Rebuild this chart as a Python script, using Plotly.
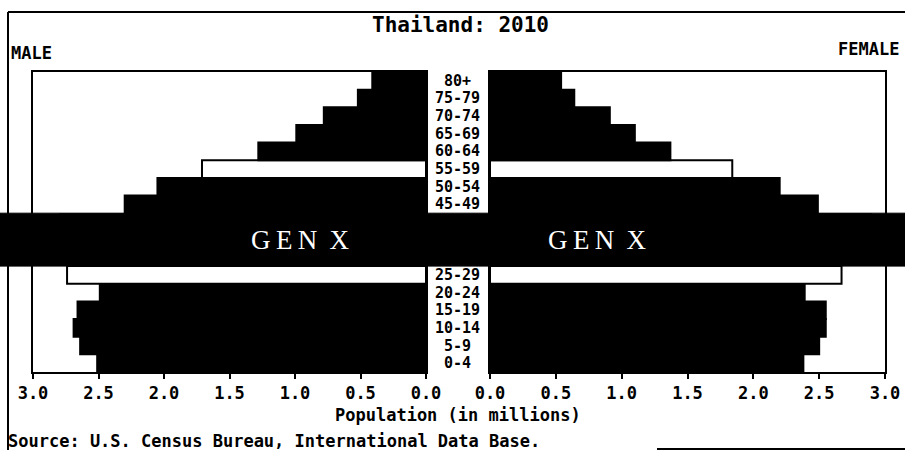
import plotly.graph_objects as go

# ---- data (millions) ----
ages = ["0-4", "5-9", "10-14", "15-19", "20-24", "25-29", "30-34", "35-39",
        "40-44", "45-49", "50-54", "55-59", "60-64", "65-69", "70-74", "75-79", "80+"]
male = [2.51, 2.64, 2.69, 2.66, 2.49, 2.74, 2.75, 2.80, 2.80, 2.30, 2.05, 1.71,
        1.28, 0.99, 0.78, 0.52, 0.41]
female = [2.38, 2.50, 2.55, 2.55, 2.39, 2.67, 2.75, 2.85, 2.90, 2.49, 2.20, 1.84,
          1.37, 1.10, 0.91, 0.64, 0.54]
highlight = ["25-29", "55-59"]
band_ages = ["30-34", "40-44"]
band_label = "GEN X"
x_ticks = [0, 0.5, 1.0, 1.5, 2.0, 2.5, 3.0]
title_text = "Thailand: 2010"
male_label = "MALE"
female_label = "FEMALE"
x_title = "Population (in millions)"
source_text = "Source: U.S. Census Bureau, International Data Base."

W, H = 905, 450
def px(x):
    return x / W
def py(y):
    return 1 - y / H

b_lo = ages.index(band_ages[0])
b_hi = ages.index(band_ages[1])
fills = ["white" if a in highlight else "black" for a in ages]
line_w = [0 if b_lo <= i <= b_hi else 2 for i in range(len(ages))]
mono = "DejaVu Sans Mono"

fig = go.Figure()
fig.add_trace(go.Bar(x=male, y=ages, orientation="h", xaxis="x", yaxis="y",
                     marker=dict(color=fills, line=dict(color="black", width=line_w)),
                     showlegend=False, hoverinfo="skip"))
fig.add_trace(go.Bar(x=female, y=ages, orientation="h", xaxis="x2", yaxis="y2",
                     marker=dict(color=fills, line=dict(color="black", width=line_w)),
                     showlegend=False, hoverinfo="skip"))

axis_common = dict(showline=True, mirror=True, linecolor="black", linewidth=2,
                   showgrid=False, zeroline=False, ticks="outside", ticklen=5,
                   tickwidth=2, tickcolor="black", tickvals=x_ticks,
                   ticktext=[f"{v:.1f}" for v in x_ticks],
                   tickfont=dict(family=mono, size=17, color="black", weight="bold"),
                   fixedrange=True, automargin=False)
y_common = dict(type="category", categoryarray=ages, range=[-0.5, len(ages) - 0.5],
                showticklabels=False, showgrid=False, zeroline=False, ticks="",
                showline=True, mirror=True, linecolor="black", linewidth=2,
                domain=[py(372), py(72)], automargin=False, fixedrange=True)

fig.update_layout(
    width=W, height=H, autosize=False,
    margin=dict(l=0, r=0, t=0, b=0, pad=0),
    paper_bgcolor="white", plot_bgcolor="white",
    bargap=0,
    xaxis=dict(domain=[px(33), px(426)], range=[3, 0], anchor="y", **axis_common),
    xaxis2=dict(domain=[px(490), px(885)], range=[0, 3], anchor="y2", **axis_common),
    yaxis=dict(anchor="x", **y_common),
    yaxis2=dict(anchor="x2", **y_common),
)

shapes = []
# outer frame fragments
shapes.append(dict(type="line", xref="paper", yref="paper", x0=px(8), x1=px(905),
                   y0=py(12), y1=py(12), line=dict(color="black", width=2)))
shapes.append(dict(type="line", xref="paper", yref="paper", x0=px(8), x1=px(8),
                   y0=py(12), y1=py(450), line=dict(color="black", width=2)))
shapes.append(dict(type="line", xref="paper", yref="paper", x0=px(657), x1=px(905),
                   y0=py(449), y1=py(449), line=dict(color="black", width=2)))
# generation band across full width
b0 = b_lo - 0.5
b1 = b_hi + 0.5
shapes.append(dict(type="rect", xref="paper", yref="y", x0=0, x1=1, y0=b0, y1=b1,
                   fillcolor="black", line=dict(color="black", width=1), layer="above"))
fig.update_layout(shapes=shapes)

ann = []
ann.append(dict(text=title_text, x=px(460), y=py(25), xref="paper", yref="paper",
                showarrow=False, xanchor="center", yanchor="middle",
                font=dict(family=mono, size=21, color="black", weight="bold")))
ann.append(dict(text=male_label, x=px(9), y=py(53), xref="paper", yref="paper",
                showarrow=False, xanchor="left", yanchor="middle",
                font=dict(family=mono, size=17, color="black", weight="bold")))
ann.append(dict(text=female_label, x=px(901), y=py(49), xref="paper", yref="paper",
                showarrow=False, xanchor="right", yanchor="middle",
                font=dict(family=mono, size=17, color="black", weight="bold")))
for a in ages:
    ann.append(dict(text=a, x=px(457), y=a, xref="paper", yref="y",
                    showarrow=False, xanchor="center", yanchor="middle",
                    borderpad=0,
                    font=dict(family=mono, size=15, color="black", weight="bold")))
band_mid = (b0 + b1) / 2
spaced = "\u2009".join(band_label.split(" ")[0]) + " \u2009" + band_label.split(" ")[1]
for cx in (300, 597):
    ann.append(dict(text=spaced, x=px(cx), y=band_mid, xref="paper", yref="y",
                    showarrow=False, xanchor="center", yanchor="middle",
                    font=dict(family="Liberation Serif", size=27, color="white")))
ann.append(dict(text=x_title, x=px(458), y=py(415), xref="paper", yref="paper",
                showarrow=False, xanchor="center", yanchor="middle",
                font=dict(family=mono, size=17, color="black", weight="bold")))
ann.append(dict(text=source_text, x=px(6), y=py(441), xref="paper", yref="paper",
                showarrow=False, xanchor="left", yanchor="middle",
                font=dict(family=mono, size=17, color="black", weight="bold")))
fig.update_layout(annotations=ann)

fig.write_html("out.html",
               config={"displayModeBar": False, "staticPlot": True},
               post_script="document.body.style.margin='0';"
                           "document.body.style.overflow='hidden';")
